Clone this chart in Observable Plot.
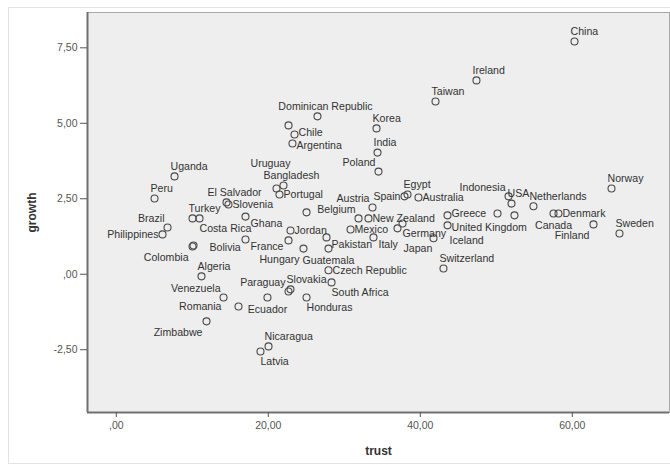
<!DOCTYPE html>
<html>
<head>
<meta charset="utf-8">
<script src="https://cdn.jsdelivr.net/npm/d3@7"></script>
<script src="https://cdn.jsdelivr.net/npm/@observablehq/plot@0.6"></script>
<style>
  body { margin: 0; background: #fff; }
  #wrap { position: relative; width: 670px; height: 465px; overflow: hidden; }
  #border { position: absolute; left: 8px; top: 7px; right: -2px; bottom: 1px; border: 1px solid #e3e3e3; pointer-events: none; }
  #wrap svg { display: block; }
  g[aria-label="x-axis label"] text, g[aria-label="y-axis label"] text { font-weight: bold; font-size: 12px; fill: #333; }
</style>
</head>
<body>
<div id="wrap"><div id="border"></div></div>
<script>
const countries = ["China","Ireland","Taiwan","Dominican Republic","","Chile","Argentina","Korea","India","Poland",
  "Uganda","Peru","Uruguay","Bangladesh","Portugal","Austria","Spain","Egypt","Australia","Indonesia",
  "USA","","Netherlands","Norway","Canada","Denmark","Finland","Sweden","Greece","",
  "United Kingdom","Germany","Japan","Iceland","Switzerland","El Salvador","Slovenia","Turkey","Costa Rica","Ghana",
  "Jordan","","France","Colombia","Bolivia","Brazil","Philippines","Algeria","Hungary","Guatemala",
  "Pakistan","Italy","Mexico","New Zealand","Belgium","","Czech Republic","Slovakia","Paraguay","South Africa",
  "Venezuela","Romania","Ecuador","Honduras","Zimbabwe","Nicaragua","Latvia"];
const trust = [60.29,47.39,42.0,26.47,22.66,23.45,23.18,34.24,34.37,34.5,
  7.66,5.03,21.08,22.0,21.47,33.71,37.92,38.32,39.76,51.61,
  52.0,52.39,54.89,65.16,57.53,58.18,62.79,66.21,43.58,50.16,
  43.58,37.66,37.0,41.74,43.05,14.5,14.76,10.03,10.95,17.0,
  22.92,22.66,17.0,10.03,10.16,6.74,6.08,11.21,24.63,27.92,
  27.66,33.84,30.82,33.18,31.87,25.03,27.92,22.92,22.66,28.32,
  14.11,16.08,19.89,25.03,11.87,20.03,18.97];
const growth = [7.71,6.42,5.72,5.23,4.93,4.63,4.33,4.83,4.03,3.40,
  3.24,2.51,2.84,2.94,2.64,2.21,2.58,2.64,2.54,2.58,
  2.34,1.95,2.25,2.84,2.01,2.01,1.65,1.35,1.95,2.01,
  1.62,1.68,1.52,1.19,0.19,2.38,2.31,1.85,1.85,1.91,
  1.45,1.12,1.15,0.92,0.95,1.55,1.32,-0.07,0.85,0.85,
  1.22,1.22,1.48,1.85,1.85,2.05,0.13,-0.50,-0.57,-0.27,
  -0.77,-1.07,-0.77,-0.77,-1.56,-2.39,-2.56];
// side of the point on which each case label sits (like SPSS label placement)
const labelSide = ["tr","tr","tr","t","r","ru","rd","tr","tr","tl",
  "tr","tr","t2","t","r","tl","l","tr","r","tl",
  "tr","r","tr","tr","b","r","bl","tr","ru","r",
  "rd","br","br2","rf","tr","t","r","tr","br","rb",
  "r","r","rb","bl","rf","tl","l","tr","bl","b",
  "rb","rb","r","r","tl","r","r","tr","tl","br",
  "tl","lf","b","br","bl","tr","br"];
const xTicks = [0, 20, 40, 60];
const yTicks = [-2.5, 0, 2.5, 5, 7.5];
const xDomain = [-3.79, 72.79];
const yDomain = [-4.58, 8.67];

const rows = countries.map((c, i) => ({name: c, trust: trust[i], growth: growth[i], side: labelSide[i]}));

const placement = {
  t:   ["middle", 8, -10],
  t2:  ["middle", -6, -25],
  tr:  ["start", -4, -10],
  tl:  ["end", -3, -9],
  r:   ["start", 4, 0],
  ru:  ["start", 4, -2],
  rd:  ["start", 4, 2],
  rf:  ["start", 16, 2],
  rb:  ["start", 5, 7],
  l:   ["end", -4, 0],
  lf:  ["end", -17, 0],
  b:   ["middle", 0, 12],
  br:  ["start", 0, 10],
  br2: ["start", 6, 20],
  bl:  ["end", -4, 11]
};

const fmt = v => {
  let s = d3.format(".2f")(v).replace(".", ",").replace("\u2212", "-");
  if (s.startsWith("0,")) s = s.slice(1);
  return s;
};

const labelMarks = Object.entries(placement).map(([code, [anchor, dx, dy]]) =>
  Plot.text(rows.filter(d => d.side === code && d.name), {
    x: "trust", y: "growth", text: "name",
    textAnchor: anchor, dx, dy, fontSize: 10.6, fill: "#333"
  })
);

const chart = Plot.plot({
  width: 670,
  height: 465,
  marginLeft: 87,
  marginTop: 12,
  marginRight: 1,
  marginBottom: 53,
  style: {fontFamily: "'Liberation Sans', Arial, sans-serif", background: "transparent", overflow: "visible"},
  x: {domain: xDomain},
  y: {domain: yDomain},
  marks: [
    Plot.frame({fill: "#eeeeee", stroke: "#a8a8a8"}),
    Plot.ruleX([xDomain[0]], {stroke: "#707070", strokeWidth: 2}),
    Plot.ruleY([yDomain[0]], {stroke: "#707070", strokeWidth: 2}),
    Plot.axisX({ticks: xTicks, tickFormat: fmt, tickSize: 5, tickPadding: 4, fontSize: 10.5, color: "#555",
      label: "trust", labelAnchor: "center", labelArrow: "none", labelOffset: 42}),
    Plot.axisY({ticks: yTicks, tickFormat: fmt, tickSize: 7, tickPadding: 3, fontSize: 10.5, color: "#555",
      label: "growth", labelAnchor: "center", labelArrow: "none", labelOffset: 60}),
    Plot.dot(rows, {x: "trust", y: "growth", r: 3.5, stroke: "#4a4a4a", strokeWidth: 1.1, fill: "none"}),
    ...labelMarks
  ]
});
document.getElementById("wrap").appendChild(chart);
</script>
</body>
</html>
